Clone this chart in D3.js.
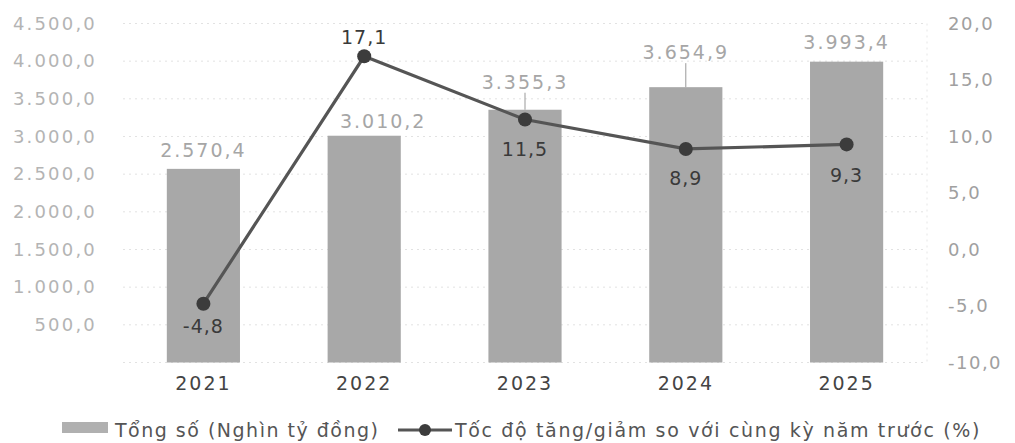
<!DOCTYPE html>
<html>
<head>
<meta charset="utf-8">
<script src="https://cdn.jsdelivr.net/npm/d3@7"></script>
<style>
  html, body { margin: 0; padding: 0; background: #ffffff; }
  svg { display: block; font-family: "DejaVu Sans", sans-serif; }
</style>
</head>
<body>
<svg id="chart" width="1015" height="443"></svg>
<script>
// ---- data ----
const years = ["2021", "2022", "2023", "2024", "2025"];
const totals = [2570.4, 3010.2, 3355.3, 3654.9, 3993.4];
const growth = [-4.8, 17.1, 11.5, 8.9, 9.3];
const leftTicks = [500, 1000, 1500, 2000, 2500, 3000, 3500, 4000, 4500];
const rightTicks = [-10, -5, 0, 5, 10, 15, 20];
const legendLabels = ["Tổng số (Nghìn tỷ đồng)", "Tốc độ tăng/giảm so với cùng kỳ năm trước (%)"];

// ---- layout tweaks (label placement) ----
const barLabelLift = [19, 15, 28, 35, 20];
const barLabelShift = [0, 19, 0, 0, 0];
const barLeader = [false, false, true, true, false];
const lineLabelDy = [22, -19, 30, 29, 31];

const vn = d3.formatLocale({decimal: ",", thousands: ".", grouping: [3], currency: ["", ""], minus: "-"});
const fmt = vn.format(",.1f");

const svg = d3.select("#chart");
const x = d3.scaleBand().domain(years).range([123, 927]).paddingInner(0.545).paddingOuter(0.2725);
const yL = d3.scaleLinear().domain([0, 4500]).range([362.5, 23.5]);
const yR = d3.scaleLinear().domain([-10, 20]).range([362.5, 23.5]);

// faint dotted gridlines
svg.append("g").selectAll("line").data([0].concat(leftTicks)).join("line")
  .attr("x1", 123).attr("x2", 927)
  .attr("y1", d => yL(d)).attr("y2", d => yL(d))
  .attr("stroke", "#e2e2e2").attr("stroke-width", 1).attr("stroke-dasharray", "2,4");
svg.append("line").attr("x1", 927).attr("x2", 927).attr("y1", yL(4500)).attr("y2", yL(0))
  .attr("stroke", "#e6e6e6").attr("stroke-dasharray", "2,4");

// bars
svg.append("g").selectAll("rect").data(totals).join("rect")
  .attr("x", (d, i) => x(years[i]))
  .attr("width", x.bandwidth())
  .attr("y", d => yL(d))
  .attr("height", d => yL(0) - yL(d))
  .attr("fill", "#a8a8a8");

// bar value labels
svg.append("g").selectAll("text").data(totals).join("text")
  .attr("x", (d, i) => x(years[i]) + x.bandwidth() / 2 + barLabelShift[i])
  .attr("y", (d, i) => yL(d) - barLabelLift[i])
  .attr("dy", "0.36em")
  .attr("text-anchor", "middle")
  .attr("font-size", 19).attr("letter-spacing", 2)
  .attr("fill", "#a6a6a6")
  .text(d => fmt(d));
svg.append("g").selectAll("line").data(totals.map((d, i) => i).filter(i => barLeader[i])).join("line")
  .attr("x1", i => x(years[i]) + x.bandwidth() / 2)
  .attr("x2", i => x(years[i]) + x.bandwidth() / 2)
  .attr("y1", i => yL(totals[i]) - barLabelLift[i] + 11)
  .attr("y2", i => yL(totals[i]))
  .attr("stroke", "#999").attr("stroke-width", 1);

// line
const cx = (d, i) => x(years[i]) + x.bandwidth() / 2;
svg.append("path").datum(growth)
  .attr("d", d3.line().x(cx).y(d => yR(d)))
  .attr("fill", "none").attr("stroke", "#555").attr("stroke-width", 3.2);
svg.append("g").selectAll("circle").data(growth).join("circle")
  .attr("cx", cx).attr("cy", d => yR(d)).attr("r", 7)
  .attr("fill", "#3c3c3c");
svg.append("g").selectAll("text").data(growth).join("text")
  .attr("x", cx)
  .attr("y", (d, i) => yR(d) + lineLabelDy[i])
  .attr("dy", "0.36em")
  .attr("text-anchor", "middle")
  .attr("font-size", 19).attr("letter-spacing", 1)
  .attr("fill", "#3a3a3a")
  .text(d => fmt(d));

// axes
const axL = svg.append("g").attr("transform", "translate(97,0)")
  .call(d3.axisLeft(yL).tickValues(leftTicks).tickFormat(fmt).tickSize(0).tickPadding(0));
const axR = svg.append("g").attr("transform", "translate(948,0)")
  .call(d3.axisRight(yR).tickValues(rightTicks).tickFormat(fmt).tickSize(0).tickPadding(0));
const axB = svg.append("g").attr("transform", "translate(0,376)")
  .call(d3.axisBottom(x).tickSize(0).tickPadding(0));
[axL, axR, axB].forEach(a => {
  a.select(".domain").remove();
  a.selectAll("text").attr("font-family", "DejaVu Sans, sans-serif").attr("font-size", 18).attr("letter-spacing", 1.5);
});
axL.selectAll("text").attr("fill", "#b4b4b4").attr("letter-spacing", 2.2);
axR.selectAll("text").attr("fill", "#a0a0a0");
axB.selectAll("text").attr("fill", "#444").attr("font-size", 19).attr("letter-spacing", 2).attr("dy", "0.75em");

// legend
const lg = svg.append("g");
lg.append("rect").attr("x", 62).attr("y", 422).attr("width", 46).attr("height", 11).attr("fill", "#b0b0b0");
lg.append("text").attr("x", 115).attr("y", 437).attr("font-size", 19).attr("letter-spacing", 1.5)
  .attr("fill", "#555").text(legendLabels[0]);
lg.append("line").attr("x1", 398).attr("x2", 452).attr("y1", 430).attr("y2", 430)
  .attr("stroke", "#555").attr("stroke-width", 3);
lg.append("circle").attr("cx", 425).attr("cy", 430).attr("r", 6).attr("fill", "#3c3c3c");
lg.append("text").attr("x", 455).attr("y", 437).attr("font-size", 19).attr("letter-spacing", 1.65)
  .attr("fill", "#555").text(legendLabels[1]);
</script>
</body>
</html>
